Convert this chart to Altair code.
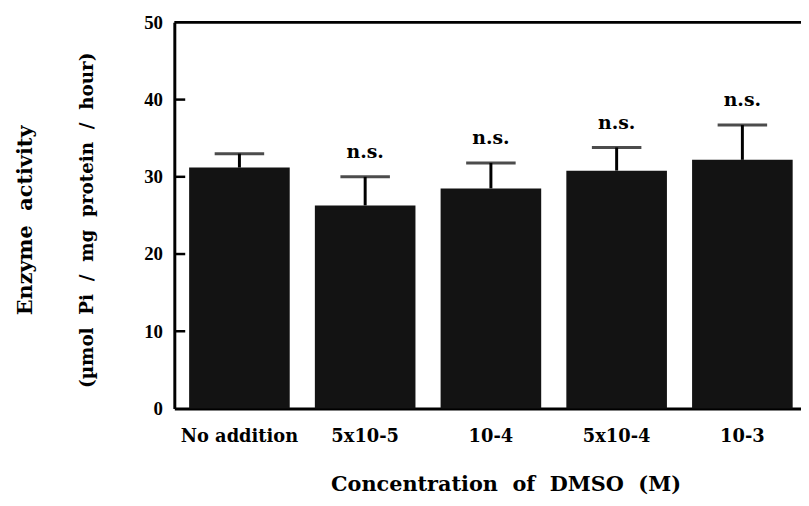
import altair as alt
import pandas as pd

categories = ["No addition", "5x10-5", "10-4", "5x10-4", "10-3"]
means = [31.2, 26.3, 28.5, 30.8, 32.2]
upper = [33.0, 30.0, 31.8, 33.8, 36.7]
sig = ["", "n.s.", "n.s.", "n.s.", "n.s."]
y_ticks = [0, 10, 20, 30, 40, 50]
inner_ticks = [10, 20, 30, 40]
SP = "\u00a0\u00a0"
y_title_main = SP.join(["Enzyme", "activity"])
y_title_unit = SP.join(["(µmol", "Pi", "/", "mg", "protein", "/", "hour)"])
x_title = SP.join(["Concentration", "of", "DMSO", "(M)"])

SERIF = "DejaVu Serif"
NUMF = "Liberation Serif"

df = pd.DataFrame({"cat": categories, "mean": means, "upper": upper, "sig": sig})
ticks_df = pd.DataFrame({"v": inner_ticks})
one = pd.DataFrame({"a": [y_title_main], "b": [y_title_unit], "c": [x_title], "top": [50]})

x_scale = alt.Scale(paddingInner=0.2, paddingOuter=0.092, align=0.64, round=False)
x_enc = alt.X(
    "cat:N",
    sort=categories,
    scale=x_scale,
    axis=alt.Axis(
        title=None, labelAngle=0, labelFont=SERIF, labelFontSize=18,
        labelFontWeight="bold", labelColor="black", labelPadding=19,
        domainColor="black", domainWidth=3, ticks=False,
    ),
)
y_scale = alt.Scale(domain=[0, 50], nice=False)
y_enc = alt.Y(
    "mean:Q",
    scale=y_scale,
    axis=alt.Axis(
        title=None, values=y_ticks, labelFont=NUMF, labelFontSize=19,
        labelFontWeight="bold", labelColor="black", labelPadding=12,
        domainColor="black", domainWidth=3, ticks=False, grid=False,
    ),
)

base = alt.Chart(df)
xc = alt.X("cat:N", sort=categories, scale=x_scale)

bars = base.mark_bar(color="#131313").encode(x=x_enc, y=y_enc)
stems = base.mark_rule(color="black", strokeWidth=3).encode(
    x=xc, y=alt.Y("mean:Q", scale=y_scale), y2="upper:Q"
)
caps = base.mark_tick(color="black", thickness=3, size=50, orient="horizontal").encode(
    x=xc, y=alt.Y("upper:Q", scale=y_scale)
)
ns = base.mark_text(
    font=SERIF, fontSize=19, fontWeight="bold", color="black", dy=-25, baseline="middle"
).encode(x=xc, y=alt.Y("upper:Q", scale=y_scale), text="sig:N")

yticks = alt.Chart(ticks_df).mark_rule(color="black", strokeWidth=2.5).encode(
    y=alt.Y("v:Q", scale=y_scale), x=alt.value(0), x2=alt.value(11)
)
top_line = alt.Chart(one).mark_rule(color="black", strokeWidth=3).encode(
    y=alt.Y("top:Q", scale=y_scale), x=alt.value(0), x2=alt.value("width")
)
t_main = alt.Chart(one).mark_text(
    font=SERIF, fontSize=21, fontWeight="bold", color="black", angle=270, baseline="middle"
).encode(text="a:N", x=alt.value(-150), y=alt.value(200))
t_unit = alt.Chart(one).mark_text(
    font=SERIF, fontSize=18.5, fontWeight="bold", color="black", angle=270, baseline="middle"
).encode(text="b:N", x=alt.value(-88), y=alt.value(200))
t_x = alt.Chart(one).mark_text(
    font=SERIF, fontSize=21, fontWeight="bold", color="black", baseline="middle"
).encode(text="c:N", x=alt.value(335), y=alt.value(467))

chart = (
    alt.layer(bars, stems, caps, ns, yticks, top_line, t_main, t_unit, t_x)
    .properties(
        width=633,
        height=390,
        autosize=alt.AutoSizeParams(type="none"),
        padding={"left": 168, "top": 12, "right": 0, "bottom": 96},
        background="white",
    )
    .configure_view(stroke=None)
)

chart.save("out.html", embed_options={"renderer": "svg", "actions": False})
